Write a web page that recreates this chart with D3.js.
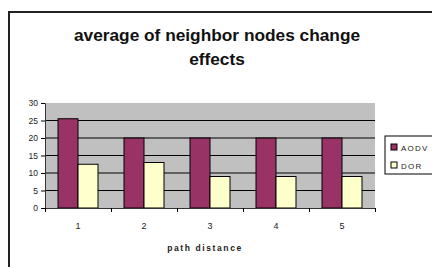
<!DOCTYPE html>
<html>
<head>
<meta charset="utf-8">
<script src="https://cdn.jsdelivr.net/npm/d3@7"></script>
<style>
  body { margin: 0; background: #fff; }
  svg { display: block; }
</style>
</head>
<body>
<div id="chart"></div>
<script>
// data
const categories = ["1", "2", "3", "4", "5"];
const seriesNames = ["AODV", "DOR"];
const aodv = [25.5, 20, 20, 20, 20];
const dor = [12.5, 13, 9, 9, 9];
const yTicks = [0, 5, 10, 15, 20, 25, 30];

const colors = { AODV: "#993366", DOR: "#ffffcc" };

const W = 432, H = 267;
const margin = { left: 45, top: 103, right: 57, bottom: 59 };
const width = W - margin.left - margin.right;   // 330
const height = H - margin.top - margin.bottom;  // 105

const svg = d3.select("#chart").append("svg")
  .attr("width", W)
  .attr("height", H)
  .style("font-family", "Arial, 'Liberation Sans', sans-serif");

// outer chart area border (only left and top visible)
svg.append("path")
  .attr("d", "M9," + H + " V12 H" + W)
  .attr("fill", "none")
  .attr("stroke", "#222")
  .attr("stroke-width", 2);

// title
const title = svg.append("text")
  .attr("text-anchor", "middle")
  .attr("font-weight", "bold")
  .attr("font-size", 17.3)
  .attr("fill", "#111");
title.append("tspan").attr("x", 217).attr("y", 41).text("average of neighbor nodes change");
title.append("tspan").attr("x", 217).attr("y", 65).text("effects");

const x0 = d3.scaleBand().domain(categories).range([0, width]).paddingInner(0.394).paddingOuter(0.197);
const x1 = d3.scaleBand().domain(seriesNames).range([0, x0.bandwidth()]);
const y = d3.scaleLinear().domain([0, 30]).range([height, 0]);

const g = svg.append("g").attr("transform", "translate(" + margin.left + "," + margin.top + ")");

// plot background
g.append("rect")
  .attr("width", width)
  .attr("height", height)
  .attr("fill", "#c0c0c0");

// gridlines
g.selectAll("line.grid")
  .data(yTicks.filter(d => d > 0 && d < 30))
  .join("line")
  .attr("class", "grid")
  .attr("x1", 0).attr("x2", width)
  .attr("y1", d => y(d)).attr("y2", d => y(d))
  .attr("stroke", "#000")
  .attr("stroke-width", 1);

const rows = categories.map((c, i) => ({ cat: c, AODV: aodv[i], DOR: dor[i] }));

const groups = g.selectAll("g.cat")
  .data(rows)
  .join("g")
  .attr("transform", d => "translate(" + x0(d.cat) + ",0)");

groups.selectAll("rect")
  .data(d => seriesNames.map(k => ({ key: k, value: d[k] })))
  .join("rect")
  .attr("x", d => x1(d.key))
  .attr("y", d => y(d.value))
  .attr("width", x1.bandwidth())
  .attr("height", d => height - y(d.value))
  .attr("fill", d => colors[d.key])
  .attr("stroke", "#000")
  .attr("stroke-width", 1);

// y axis
const yAxis = d3.axisLeft(y).tickValues(yTicks).tickSize(4).tickPadding(3);
const ya = g.append("g").call(yAxis);
ya.select(".domain").attr("stroke", "#333");
ya.selectAll("text").attr("font-size", 8.5).attr("fill", "#222");

// x axis with ticks between categories
const xLin = d3.scaleLinear().domain([0, 5]).range([0, width]);
const xa = g.append("g")
  .attr("transform", "translate(0," + height + ")")
  .call(d3.axisBottom(xLin).tickValues([0, 1, 2, 3, 4, 5]).tickSize(4).tickFormat(""));
xa.select(".domain").attr("stroke", "#333");

g.selectAll("text.xlab")
  .data(categories)
  .join("text")
  .attr("class", "xlab")
  .attr("x", d => x0(d) + x0.bandwidth() / 2)
  .attr("y", height + 21)
  .attr("text-anchor", "middle")
  .attr("font-size", 9)
  .attr("fill", "#222")
  .text(d => d);

// axis title
g.append("text")
  .attr("x", width / 2 - 5)
  .attr("y", height + 43)
  .attr("text-anchor", "middle")
  .attr("font-size", 8.5)
  .attr("font-weight", "bold")
  .attr("letter-spacing", 1.6)
  .attr("fill", "#222")
  .text("path distance");

// legend
const legend = svg.append("g").attr("transform", "translate(385,136)");
legend.append("rect")
  .attr("width", 60).attr("height", 38)
  .attr("fill", "#fff").attr("stroke", "#000").attr("stroke-width", 1);
const li = legend.selectAll("g.item")
  .data(seriesNames)
  .join("g")
  .attr("transform", (d, i) => "translate(6," + (8 + i * 18) + ")");
li.append("rect")
  .attr("width", 6).attr("height", 6)
  .attr("fill", d => colors[d]).attr("stroke", "#000");
li.append("text")
  .attr("x", 10).attr("y", 6.5)
  .attr("font-size", 8)
  .attr("letter-spacing", 1.2)
  .attr("fill", "#222")
  .text(d => d);
</script>
</body>
</html>
